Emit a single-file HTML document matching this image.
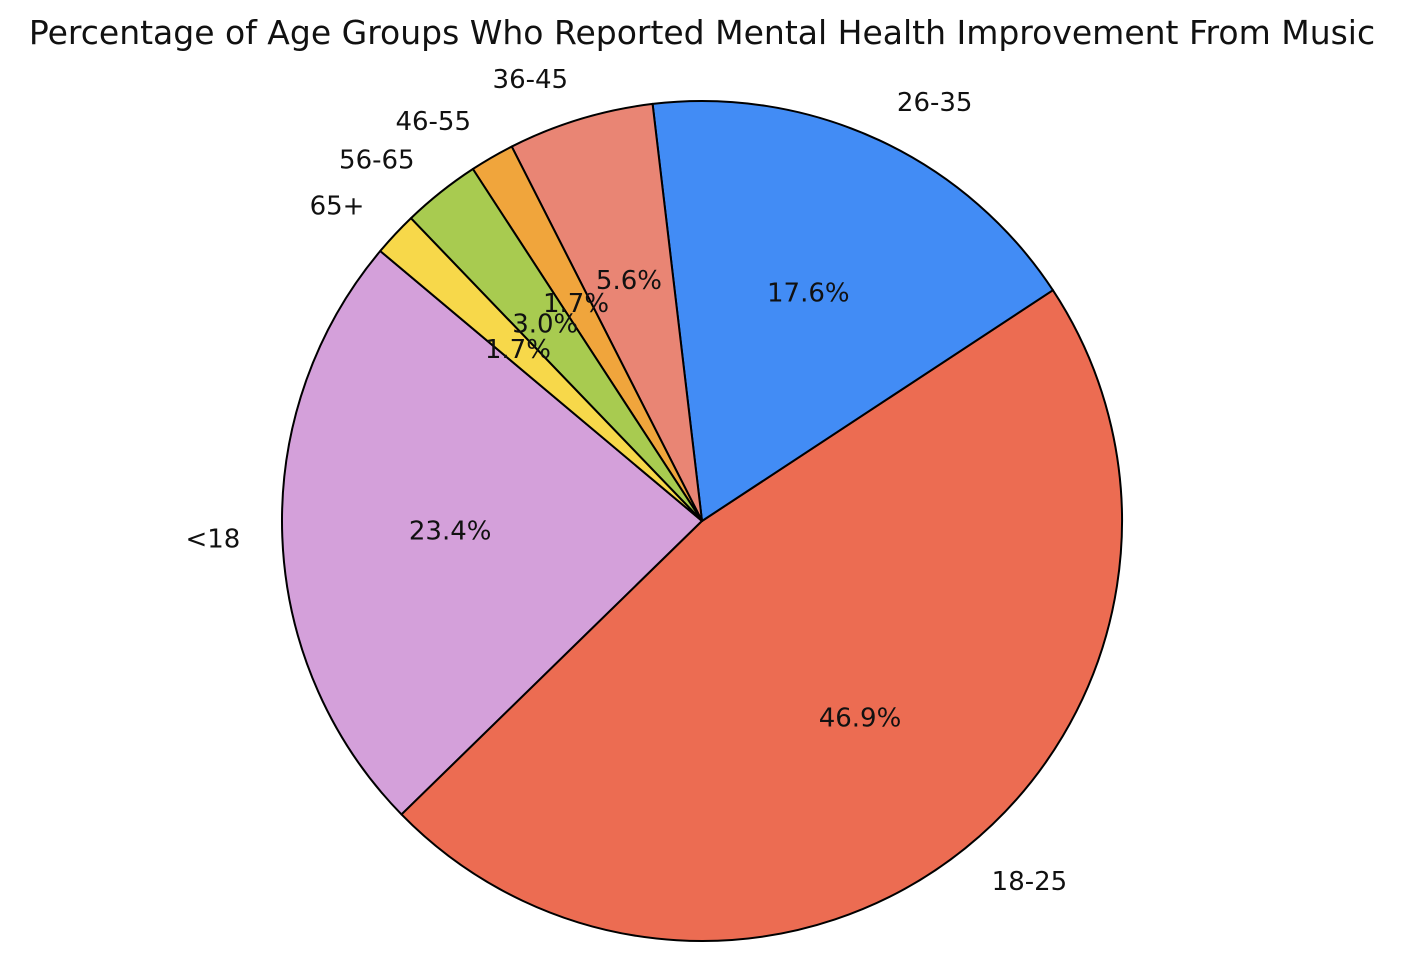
<!DOCTYPE html>
<html><head><meta charset="utf-8"><style>
html,body{margin:0;padding:0;background:#fff}
svg{display:block;font-family:"DejaVu Sans","Liberation Sans",sans-serif}
</style></head><body>
<svg id="chart" width="1428" height="978" viewBox="0 0 1428 978">
<text x="702" y="44" text-anchor="middle" font-size="33" fill="#111">Percentage of Age Groups Who Reported Mental Health Improvement From Music</text>
<g id="slices"></g>
<g id="labels"></g>
</svg>
<script>
const categories = ["<18","18-25","26-35","36-45","46-55","56-65","65+"];
const values = [23.4,46.9,17.6,5.6,1.7,3.0,1.7];
const colors = ["#d4a0da","#ec6c52","#428cf5","#e98574","#f0a53c","#a8cb50","#f7d84a"];
const cx=702, cy=521, R=420, startAngle=140;
const ns="http://www.w3.org/2000/svg";
const total=values.reduce((a,b)=>a+b,0);
const gS=document.getElementById('slices'), gL=document.getElementById('labels');
function pt(deg,r){const a=deg*Math.PI/180;return [cx+r*Math.cos(a), cy-r*Math.sin(a)];}
let ang=startAngle;
values.forEach((v,i)=>{
  const sweep=v/total*360, a0=ang, a1=ang+sweep;
  const p0=pt(a0,R), p1=pt(a1,R);
  const large=sweep>180?1:0;
  const path=document.createElementNS(ns,'path');
  path.setAttribute('d',`M${cx},${cy} L${p0[0]},${p0[1]} A${R},${R} 0 ${large} 0 ${p1[0]},${p1[1]} Z`);
  path.setAttribute('fill',colors[i]);
  path.setAttribute('stroke','#000');
  path.setAttribute('stroke-width','2');
  path.setAttribute('stroke-linejoin','round');
  
  
  gS.appendChild(path);
  const mid=(a0+a1)/2;
  const lp=pt(mid,R*1.1);
  const t=document.createElementNS(ns,'text');
  t.setAttribute('x',lp[0]); t.setAttribute('y',lp[1]+9);
  t.setAttribute('font-size','26'); t.setAttribute('fill','#111');
  t.setAttribute('text-anchor', Math.cos(mid*Math.PI/180)>0?'start':'end');
  t.textContent=categories[i];
  
  
  gL.appendChild(t);
  const pp=pt(mid,R*0.6);
  const p=document.createElementNS(ns,'text');
  p.setAttribute('x',pp[0]); p.setAttribute('y',pp[1]+9);
  p.setAttribute('font-size','26'); p.setAttribute('fill','#111');
  p.setAttribute('text-anchor','middle');
  p.textContent=v.toFixed(1)+'%';
  
  
  gL.appendChild(p);
  ang=a1;
});
</script>
</body></html>
